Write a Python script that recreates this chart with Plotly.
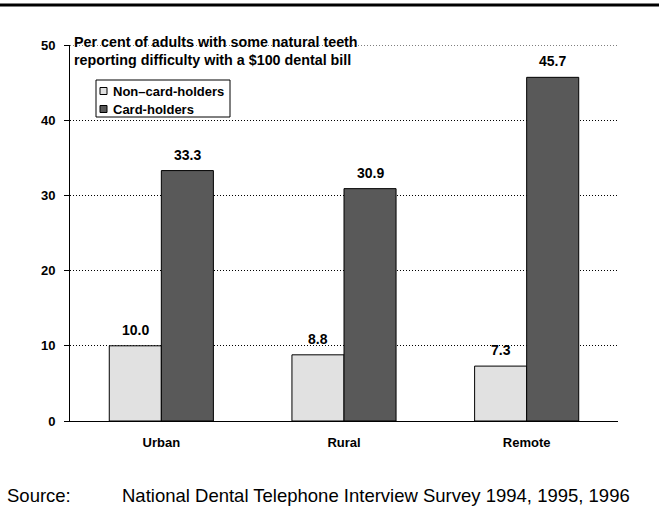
import plotly.graph_objects as go

# Dental bill difficulty by region and card-holder status
regions = ["Urban", "Rural", "Remote"]
non_card = [10.0, 8.8, 7.3]
card = [33.3, 30.9, 45.7]
series_names = ["Non\u2013card-holders", "Card-holders"]
y_ticks = [0, 10, 20, 30, 40, 50]

FONT = "Liberation Sans, Arial, sans-serif"
LIGHT = "#e1e1e1"
DARK = "#595959"
COLORS = [LIGHT, DARK]

# plot area in pixels (for placing decorations in paper units)
L, R, T, B = 70, 41, 45, 98
W, H = 659, 519
PW, PH = W - L - R, H - T - B


def px(x):
    return (x - L) / PW


def py(y):
    return 1 - (y - T) / PH


fig = go.Figure()
for name, vals, col in zip(series_names, (non_card, card), COLORS):
    fig.add_trace(go.Bar(
        x=regions, y=vals, name=name, showlegend=False,
        marker=dict(color=col, line=dict(color="black", width=1)),
    ))

bold = lambda s: dict(family=FONT, size=s, color="black", weight="bold")

annotations = []
# value labels above each bar
for i, r in enumerate(regions):
    for val, off in ((non_card[i], -26), (card[i], 26)):
        annotations.append(dict(
            x=r, y=val, xref="x", yref="y", text=f"{val:.1f}",
            showarrow=False, yanchor="middle", yshift=16, xshift=off,
            font=bold(14),
        ))

# chart heading inside the plot area
for text, y in (("Per cent of adults with some natural teeth", 42),
                ("reporting difficulty with a $100 dental bill", 60)):
    annotations.append(dict(
        x=px(72), y=py(y), xref="paper", yref="paper",
        xanchor="left", yanchor="middle", text=text, showarrow=False,
        font=bold(14.3),
    ))

# legend (drawn by hand for a compact box)
shapes = [dict(type="rect", xref="paper", yref="paper",
               x0=px(96), x1=px(230), y0=py(80), y1=py(117),
               line=dict(color="black", width=1), fillcolor="white")]
for name, col, yc in zip(series_names, COLORS, (91, 109)):
    shapes.append(dict(type="rect", xref="paper", yref="paper",
                       x0=px(100), x1=px(107), y0=py(yc - 3.5), y1=py(yc + 3.5),
                       line=dict(color="black", width=1), fillcolor=col))
    annotations.append(dict(
        x=px(111), y=py(yc), xref="paper", yref="paper",
        xanchor="left", yanchor="middle", text=name, showarrow=False,
        font=bold(13),
    ))

# top-level gridline at 50 (axis range edge)
shapes.append(dict(type="line", xref="paper", yref="y", x0=0, x1=1, y0=50, y1=50,
                   line=dict(color="black", width=1, dash="1px,2px"), layer="below"))
# heavy rule across the top of the page
shapes.append(dict(type="line", xref="paper", yref="paper",
                   x0=px(0), x1=px(W), y0=py(5), y1=py(5),
                   line=dict(color="black", width=3)))

# source line
annotations.append(dict(
    x=px(5), y=py(495), xref="paper", yref="paper", xanchor="left", yanchor="middle",
    text="Source:", showarrow=False,
    font=dict(family=FONT, size=18.5, color="black"),
))
annotations.append(dict(
    x=px(119.5), y=py(495), xref="paper", yref="paper", xanchor="left", yanchor="middle",
    text="National Dental Telephone Interview Survey 1994, 1995, 1996", showarrow=False,
    font=dict(family=FONT, size=18.5, color="black"),
))

fig.update_layout(
    width=W, height=H,
    margin=dict(l=L, r=R, t=T, b=B),
    paper_bgcolor="white", plot_bgcolor="white",
    barmode="group", bargap=0.43, bargroupgap=0,
    font=dict(family=FONT, color="black"),
    showlegend=False,
    annotations=annotations,
    shapes=shapes,
)

fig.update_xaxes(
    showline=True, linecolor="black", linewidth=1,
    ticks="", showgrid=False,
    tickfont=bold(13),
    ticklabelstandoff=9,
)
fig.update_yaxes(
    range=[0, 50], tickvals=y_ticks,
    showline=True, linecolor="black", linewidth=1,
    ticks="outside", ticklen=5, tickcolor="black",
    showgrid=True, gridcolor="black", gridwidth=1, griddash="1px,2px",
    zeroline=False,
    tickfont=bold(13),
    ticklabelstandoff=6,
)

fig.write_html("out.html")
